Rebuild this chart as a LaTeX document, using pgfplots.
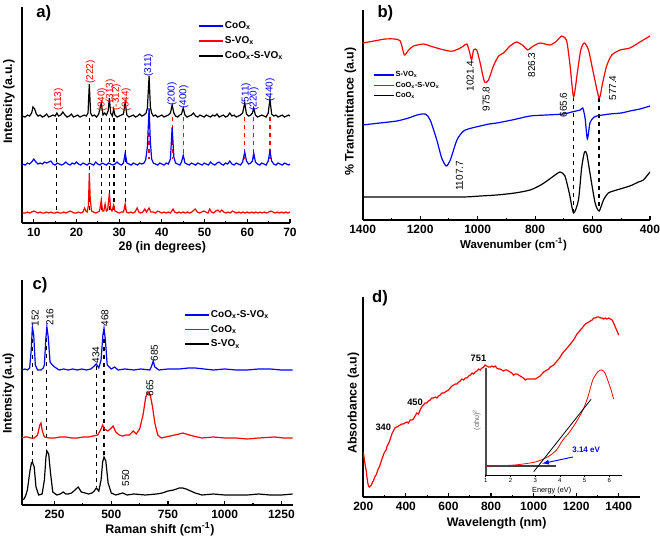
\documentclass[border=0pt]{standalone}
\usepackage{fontspec}
\setmainfont{Liberation Sans}
\usepackage{pgfplots}
\pgfplotsset{compat=1.18}
\definecolor{pblue}{RGB}{0,0,255}
\definecolor{pred}{RGB}{255,0,0}
\pgfplotsset{
  panel/.style={
    scale only axis,
    clip mode=individual,
    axis lines=left,
    axis line style={-, line width=1.3pt},
    ytick=\empty,
    tick align=inside,
    major tick length=3pt,
    minor tick length=1.8pt,
    every tick/.style={line width=0.8pt, black},
    minor x tick num=1,
    /pgf/number format/assume math mode=true,
    /pgf/number format/1000 sep={},
    ticklabel style={font=\bfseries\fontsize{9}{10}\selectfont},
    label style={font=\bfseries\fontsize{9.3}{11}\selectfont},
    legend cell align=left,
  },
  crv/.style={line width=0.9pt},
}
\tikzset{
  pk/.style={font=\fontsize{7.5}{8}\selectfont, rotate=90, inner sep=0pt},
  plab/.style={font=\bfseries\fontsize{12.5}{14}\selectfont},
}
\begin{document}
\begin{tikzpicture}
\useasboundingbox (0,0) rectangle (495pt,406.5pt);
% ---------------- a) ----------------
\begin{axis}[panel, at={(16.7pt,239.0pt)}, anchor=south west,
  width=200.8pt, height=162.2pt, xmin=7.3, xmax=70, ymin=-6.3, ymax=210,
  xtick={10,20,...,70},
  xlabel={2θ (in degrees)}, ylabel={Intensity (a.u.)},
  xlabel style={at={(axis description cs:0.523,-0.112)}, anchor=center},
  ylabel style={at={(axis description cs:-0.05,0.562)}, anchor=center},
  legend style={draw=none, fill=none, at={(axis description cs:0.655,0.94)}, anchor=north west,
    font=\bfseries\fontsize{7.5}{9}\selectfont, row sep=2.4pt, inner sep=0pt, nodes={inner sep=1pt}},
  legend image code/.code={\draw[#1,line width=1.3pt] (0pt,0pt) -- (18pt,0pt);},
]
\addplot[black, dashed, line width=0.9pt, forget plot] coordinates {(15.4,99) (15.4,5)};
\addplot[black, dashed, line width=0.9pt, forget plot] coordinates {(23.0,99) (23.0,5)};
\addplot[black, dashed, line width=0.9pt, forget plot] coordinates {(25.8,99) (25.8,5)};
\addplot[black, dashed, line width=0.9pt, forget plot] coordinates {(27.7,99) (27.7,5)};
\addplot[black, dashed, line width=0.9pt, forget plot] coordinates {(28.8,99) (28.8,5)};
\addplot[black, dashed, line width=0.9pt, forget plot] coordinates {(31.4,99) (31.4,5)};
\addplot[pred, dashed, line width=0.9pt, forget plot] coordinates {(37.0,100) (37.0,58)};
\addplot[pred, dashed, line width=0.9pt, forget plot] coordinates {(42.4,100) (42.4,58)};
\addplot[pred, dashed, line width=0.9pt, forget plot] coordinates {(45.0,100) (45.0,58)};
\addplot[pred, dashed, line width=0.9pt, forget plot] coordinates {(59.4,100) (59.4,58)};
\addplot[pred, dashed, line width=0.9pt, forget plot] coordinates {(61.5,100) (61.5,58)};
\addplot[pred, dashed, line width=0.9pt, forget plot] coordinates {(65.3,100) (65.3,58)};
% CoOx (blue)
\addplot[pblue, crv] coordinates {
(7.3,53) (8,52) (8.5,54) (9,53) (9.5,55) (10,58) (10.5,55) (11,53) (11.5,54) (12,53) (12.5,55) (13,54) (13.5,55) (14,56) (14.5,53) (15,52) (15.5,54) (16,53) (16.5,52) (17,53) (17.5,55) (18,53) (18.5,52) (19,54) (19.5,53) (20,55) (20.5,53) (21,52) (21.5,54) (22,53) (22.5,52) (23,54) (23.5,53) (24,52) (24.5,55) (25,53) (25.5,52) (26,54) (26.5,53) (27,52) (27.5,54) (28,53) (28.5,52) (29,53) (29.5,55) (30,53) (30.5,52) (31,54) (31.4,64) (31.8,54) (32.3,53) (32.8,52) (33.3,54) (33.8,53) (34.3,52) (34.8,54) (35.3,53) (35.8,54) (36.2,57) (36.6,70) (37.0,109) (37.3,75) (37.6,58) (38.0,54) (38.5,53) (39,52) (39.5,54) (40,53) (40.5,52) (41,54) (41.5,53) (42.0,58) (42.4,90) (42.8,60) (43.2,54) (43.7,53) (44.2,52) (44.6,55) (45.0,62) (45.4,54) (45.9,53) (46.4,52) (46.9,54) (47.4,53) (47.9,52) (48.4,54) (48.9,53) (49.4,52) (49.9,54) (50.4,53) (50.9,52) (51.4,55) (51.9,53) (52.4,52) (52.9,54) (53.4,55) (53.9,53) (54.4,52) (54.9,54) (55.4,53) (55.9,56) (56.4,53) (56.9,52) (57.4,54) (57.9,53) (58.4,52) (58.9,55) (59.4,65) (59.8,56) (60.3,53) (60.8,54) (61.2,56) (61.5,64) (61.9,55) (62.4,53) (62.9,52) (63.4,54) (63.9,53) (64.4,52) (64.9,56) (65.3,66) (65.7,56) (66.2,53) (66.7,52) (67.2,54) (67.7,53) (68.2,52) (68.7,54) (69.2,53) (69.7,52) (70,53)};
\addlegendentry{CoO\textsubscript{x}}
% S-VOx (red)
\addplot[pred, crv] coordinates {
(7.3,4) (8,4) (8.5,5) (9,4) (9.5,5) (10,6) (10.5,5) (11,4) (11.5,5) (12,4) (12.5,4) (13,5) (13.5,4) (14,5) (14.5,4) (15,4) (15.5,5) (16,4) (16.5,4) (17,5) (17.5,4) (18,5) (18.5,6) (19,5) (19.5,4) (20,4) (20.5,5) (21,4) (21.5,5) (21.9,9) (22.2,6) (22.5,5) (22.8,12) (23.0,44) (23.2,20) (23.5,6) (24,5) (24.5,4) (25,5) (25.4,6) (25.8,17) (26.1,6) (26.4,6) (26.7,13) (27.0,6) (27.3,7) (27.7,24) (28.0,8) (28.3,6) (28.7,12) (29.0,6) (29.5,5) (30,4) (30.5,5) (31,5) (31.4,13) (31.7,5) (32.2,4) (32.7,5) (33.2,4) (33.7,5) (34.2,9) (34.6,5) (35,4) (35.5,5) (36,8) (36.4,5) (37,9) (37.4,5) (38,5) (38.5,4) (39,6) (39.5,5) (40,4) (40.5,5) (41,4) (41.5,5) (42,4) (42.6,8) (43,5) (43.5,4) (44,5) (44.5,4) (45,5) (45.5,4) (46,5) (46.5,4) (47,5) (47.8,8) (48.3,5) (48.8,4) (49.3,5) (49.8,6) (50.3,5) (50.8,4) (51.2,8) (51.6,5) (52.1,4) (52.6,6) (53.1,7) (53.6,5) (54,7) (54.5,5) (55,4) (55.5,5) (56,4) (56.5,6) (57,5) (57.5,4) (58,5) (58.5,4) (59,5) (59.5,4) (60,5) (60.5,4) (61,5) (61.5,4) (62,5) (62.5,4) (63,5) (63.5,4) (64,5) (64.5,4) (65,5) (65.5,6) (66,5) (66.5,4) (67,5) (67.5,4) (68,5) (68.5,4) (69,5) (69.5,4) (70,5)};
\addlegendentry{S-VO\textsubscript{x}}
% CoOx-S-VOx (black)
\addplot[black, crv] coordinates {
(7.3,101) (8,100) (8.5,102) (9,101) (9.5,104) (9.8,110) (10.2,108) (10.6,103) (11,101) (11.5,102) (12,100) (12.5,101) (13,103) (13.5,100) (14,101) (14.5,102) (15,101) (15.4,104) (15.8,101) (16.3,102) (16.8,105) (17.3,102) (17.8,100) (18.3,101) (18.8,103) (19.3,100) (19.8,101) (20.3,102) (20.8,100) (21.3,101) (21.8,102) (22.3,101) (22.7,104) (23.0,133) (23.3,104) (23.7,101) (24.2,102) (24.7,100) (25.2,103) (25.8,114) (26.2,102) (26.6,104) (27.0,102) (27.4,106) (27.7,119) (28.0,104) (28.4,101) (28.7,108) (29.0,102) (29.5,100) (30.0,101) (30.5,102) (31.0,103) (31.4,115) (31.8,102) (32.3,100) (32.8,101) (33.3,102) (33.8,100) (34.3,101) (34.8,103) (35.3,101) (35.8,102) (36.3,104) (36.6,109) (37.0,141) (37.3,110) (37.6,104) (38.0,101) (38.5,102) (39,100) (39.5,101) (40,102) (40.5,100) (41,101) (41.5,102) (42.0,104) (42.4,112) (42.8,104) (43.2,101) (43.7,100) (44.2,102) (44.6,103) (45.0,109) (45.4,102) (45.9,100) (46.4,101) (46.9,102) (47.4,104) (47.9,101) (48.4,100) (48.9,102) (49.4,101) (49.9,100) (50.4,102) (50.9,101) (51.4,100) (51.9,102) (52.4,101) (52.9,103) (53.4,100) (53.9,101) (54.4,102) (54.9,100) (55.4,101) (55.9,104) (56.4,101) (56.9,102) (57.4,100) (57.9,101) (58.4,102) (58.9,104) (59.4,114) (59.8,103) (60.3,101) (60.8,102) (61.2,104) (61.5,109) (61.9,102) (62.4,100) (62.9,101) (63.4,102) (63.9,101) (64.4,100) (64.9,104) (65.3,118) (65.7,103) (66.2,101) (66.7,102) (67.2,100) (67.7,101) (68.2,102) (68.7,100) (69.2,101) (69.7,102) (70,101)};
\addlegendentry{CoO\textsubscript{x}-S-VO\textsubscript{x}}
\node[pk, pred] at (axis cs:15.8,117.5) {(113)};
\node[pk, pred] at (axis cs:23.3,145) {(222)};
\node[pk, pred] at (axis cs:26.0,117.5) {(040)};
\node[pk, pred] at (axis cs:27.9,126) {(313)};
\node[pk, pred] at (axis cs:29.3,120) {(-312)};
\node[pk, pred] at (axis cs:31.6,117.5) {(044)};
\node[pk, pblue] at (axis cs:36.9,152) {(311)};
\node[pk, pblue] at (axis cs:42.4,123) {(200)};
\node[pk, pblue] at (axis cs:45.1,120) {(400)};
\node[pk, pblue] at (axis cs:59.7,123) {(511)};
\node[pk, pblue] at (axis cs:61.6,118) {(220)};
\node[pk, pblue] at (axis cs:65.3,127) {(440)};
\node[plab] at (axis description cs:0.08,0.972) {a)};
\end{axis}
% ---------------- b) ----------------
\begin{axis}[panel, at={(272.0pt,241.5pt)}, anchor=south west,
  width=215.5pt, height=157.5pt, xmin=400, xmax=1400, x dir=reverse, ymin=-2, ymax=208,
  xtick={400,600,...,1400},
  xlabel={Wavenumber (cm\textsuperscript{-1})}, ylabel={\% Transmittance (a.u)},
  xlabel style={font=\bfseries\fontsize{8.6}{10}\selectfont, at={(axis description cs:0.525,-0.117)}, anchor=center},
  ylabel style={at={(axis description cs:-0.043,0.516)}, anchor=center},
  legend style={draw=none, fill=none, at={(axis description cs:0.036,0.714)}, anchor=north west,
    font=\bfseries\fontsize{5.6}{6.5}\selectfont, row sep=0.8pt, inner sep=0pt, nodes={inner sep=0.8pt}},
  legend image code/.code={\draw[#1,line width=1pt] (0pt,0pt) -- (15pt,0pt);},
]
\addplot[black, dashed, line width=0.9pt, forget plot] coordinates {(665.6,121) (665.6,5)};
\addplot[black, dashed, line width=0.9pt, forget plot] coordinates {(577.4,120) (577.4,7)};
\addplot[pblue, crv, smooth, tension=0.4] coordinates {
(1400,93) (1340,95) (1281,97) (1240,100) (1211,103) (1182,104) (1165,98) (1142,78) (1125,60) (1109,52) (1095,58) (1072,78) (1049,87) (1020,90) (991,92) (960,94) (933,95) (880,98) (817,102) (760,103) (701,104) (672,106) (643,108) (634,110) (626,100) (618,79) (609,95) (598,100) (585,102) (540,104) (500,105) (470,107) (435,109) (400,112)};
\addlegendentry{S-VO\textsubscript{x}}
\addplot[pred, crv, smooth, tension=0.4] coordinates {
(1400,175) (1360,177) (1321,179) (1290,179) (1269,177) (1255,163) (1240,168) (1223,172) (1188,174) (1165,172) (1130,169) (1100,167) (1084,167) (1060,170) (1049,172) (1037,174) (1028,166) (1021,158) (1014,168) (1003,168) (991,155) (976,136) (962,138) (945,152) (927,162) (910,165) (887,172) (864,176) (840,172) (826,168) (806,172) (782,175) (748,173) (725,177) (707,182) (690,177) (678,152) (666,121) (653,145) (641,168) (629,175) (614,168) (597,145) (577,120) (565,135) (551,152) (533,163) (504,168) (470,170) (435,176) (400,182)};
\addlegendentry{CoO\textsubscript{x}-S-VO\textsubscript{x}}
\addplot[black, crv, smooth, tension=0.4] coordinates {
(1400,21) (1200,21) (1049,21) (990,22) (933,23) (870,25) (817,28) (780,33) (759,37) (735,42) (713,46) (696,42) (681,25) (666,5) (649,18) (638,50) (628,66) (620,64) (609,45) (591,15) (577,7) (562,18) (545,25) (516,28) (470,32) (440,36) (423,38) (400,46)};
\addlegendentry{CoO\textsubscript{x}}
\node[pk] at (axis cs:1026,142) {1021.4};
\node[pk] at (axis cs:970,119) {975.8};
\node[pk] at (axis cs:812,153) {826.3};
\node[pk] at (axis cs:701,113) {665.6};
\node[pk] at (axis cs:530,130) {577.4};
\node[pk] at (axis cs:1063,42) {1107.7};
\node[plab] at (axis description cs:0.079,0.984) {b)};
\end{axis}
% ---------------- c) ----------------
\begin{axis}[panel, at={(16.275pt,27.75pt)}, anchor=south west,
  width=203.25pt, height=168.75pt, xmin=105, xmax=1300, ymin=0, ymax=225,
  xtick={250,500,...,1250},
  xlabel={Raman shift (cm\textsuperscript{-1})}, ylabel={Intensity (a.u)},
  xlabel style={at={(axis description cs:0.51,-0.109)}, anchor=center},
  ylabel style={at={(axis description cs:-0.049,0.496)}, anchor=center},
  legend style={draw=none, fill=none, at={(axis description cs:0.6,0.873)}, anchor=north west,
    font=\bfseries\fontsize{7.5}{9}\selectfont, row sep=2.4pt, inner sep=0pt, nodes={inner sep=1pt}},
  legend image code/.code={\draw[#1,line width=1.3pt] (0pt,0pt) -- (17.5pt,0pt);},
]
\addplot[black, dashed, line width=0.9pt, forget plot] coordinates {(152,174) (152,43)};
\addplot[black, dashed, line width=0.9pt, forget plot] coordinates {(216,175) (216,54)};
\addplot[black, dashed, line width=0.9pt, forget plot] coordinates {(434,139) (434,18)};
\addplot[black, dashed, line width=0.9pt, forget plot] coordinates {(468,174) (468,48)};
\addplot[pblue, crv] coordinates {
(105,135) (120,136) (130,135) (140,137) (147,155) (152,178) (158,170) (165,140) (175,135) (190,135) (200,137) (205,140) (211,165) (216,178) (222,168) (230,143) (240,140) (250,138) (270,135) (290,136) (310,135) (330,136) (350,135) (370,136) (390,135) (410,136) (425,139) (434,141) (445,137) (455,145) (463,170) (468,177) (474,165) (482,140) (500,136) (515,138) (530,135) (560,136) (600,135) (630,136) (670,135) (678,139) (685,144) (692,138) (710,135) (750,136) (800,136) (840,137) (870,137) (910,136) (950,135) (1000,136) (1050,135) (1100,135) (1150,136) (1200,136) (1250,135) (1300,135)};
\addlegendentry{CoO\textsubscript{x}-S-VO\textsubscript{x}}
\addplot[pred, crv] coordinates {
(105,67) (118,68) (130,68) (145,67) (160,67) (175,70) (185,80) (190,82) (196,74) (205,68) (225,67) (250,67) (275,68) (300,68) (325,67) (350,67) (375,68) (400,68) (420,69) (440,70) (455,76) (462,80) (470,76) (485,74) (500,77) (508,79) (520,73) (535,70) (550,69) (565,70) (580,70) (597,74) (610,71) (625,76) (640,90) (652,108) (663,113) (672,110) (682,98) (692,82) (705,70) (720,67) (740,68) (760,69) (780,70) (800,71) (815,72) (830,71) (860,69) (900,67) (950,68) (1000,67) (1050,67) (1100,66) (1150,67) (1220,68) (1260,67) (1300,67)};
\addlegendentry{CoO\textsubscript{x}}
\addplot[black, crv] coordinates {
(105,5) (115,6) (122,9) (130,15) (136,25) (142,35) (148,42) (152,43) (160,38) (168,18) (180,10) (195,11) (205,25) (212,48) (216,54) (224,51) (232,32) (242,13) (260,10) (275,11) (288,13) (300,11) (310,11) (325,12) (340,15) (354,18) (368,13) (385,12) (400,11) (415,12) (425,14) (434,17) (445,14) (455,25) (462,43) (468,48) (476,44) (486,22) (500,12) (520,10) (535,11) (550,12) (570,10) (600,11) (650,10) (700,11) (725,12) (750,14) (775,15) (800,17) (815,17) (830,16) (850,14) (870,12) (900,10) (950,11) (1000,10) (1050,10) (1100,10) (1150,11) (1200,10) (1250,10) (1300,11)};
\addlegendentry{S-VO\textsubscript{x}}
\node[pk] at (axis cs:164,187) {152};
\node[pk] at (axis cs:230,188) {216};
\node[pk] at (axis cs:432,150) {434};
\node[pk] at (axis cs:472,187) {468};
\node[pk] at (axis cs:690,152) {685};
\node[pk] at (axis cs:670,117) {665};
\node[pk] at (axis cs:564,27) {550};
\node[plab] at (axis description cs:0.068,0.978) {c)};
\end{axis}
% ---------------- d) ----------------
\begin{axis}[panel, at={(272.5pt,33.75pt)}, anchor=south west,
  width=207.5pt, height=150.2pt, xmin=200, xmax=1500, ymin=3, ymax=203.3,
  xtick={200,400,...,1400},
  xlabel={Wavelength (nm)}, ylabel={Absorbance (a.u)},
  xlabel style={at={(axis description cs:0.482,-0.13)}, anchor=center},
  ylabel style={at={(axis description cs:-0.036,0.468)}, anchor=center},
]
\addplot[pred, crv] coordinates {
(200,48) (205,40) (210,33) (213,30) (217,23) (220,18) (224,14) (228,13) (233,14) (238,15) (243,18) (247,19) (252,22) (256,24) (260,25) (265,28) (270,31) (275,33) (280,36) (286,40) (291,43) (296,46) (300,48) (307,50) (312,54) (317,56) (322,58) (328,62) (334,66) (341,69) (348,72) (357,73) (365,74) (373,75) (380,76) (388,76) (396,77) (405,78) (412,77) (420,80) (427,80) (435,81) (443,84) (451,87) (459,86) (467,90) (474,93) (482,95) (490,97) (498,97) (506,99) (514,100) (522,102) (530,102) (538,103) (546,102) (553,104) (561,105) (569,107) (577,107) (585,108) (592,109) (600,110) (608,112) (616,114) (624,115) (632,116) (640,116) (648,118) (655,119) (663,121) (671,120) (679,122) (687,122) (695,124) (703,125) (711,127) (718,126) (726,128) (734,129) (742,131) (749,130) (757,132) (765,133) (772,135) (780,134) (788,133) (796,133) (804,134) (812,133) (820,134) (827,132) (835,131) (843,131) (851,130) (859,129) (866,130) (874,130) (882,129) (890,128) (898,127) (906,125) (914,126) (922,126) (930,125) (937,124) (945,123) (953,122) (961,120) (969,121) (977,121) (985,121) (992,121) (1000,121) (1008,121) (1016,122) (1023,123) (1031,124) (1039,126) (1047,128) (1055,129) (1063,130) (1071,131) (1078,133) (1086,134) (1094,135) (1102,137) (1110,139) (1118,141) (1125,143) (1133,146) (1141,148) (1149,150) (1157,152) (1165,154) (1173,156) (1180,158) (1188,160) (1196,163) (1204,166) (1212,168) (1220,170) (1228,172) (1235,174) (1243,176) (1251,177) (1259,178) (1267,179) (1275,180) (1282,182) (1290,182) (1298,183) (1306,183) (1314,182) (1322,182) (1329,181) (1337,182) (1345,181) (1353,182) (1361,181) (1369,180) (1376,177) (1384,173) (1392,169) (1400,165)};
\node[font=\bfseries\fontsize{7}{8}\selectfont] at (axis cs:294,73) {340};
\node[font=\bfseries\fontsize{7}{8}\selectfont] at (axis cs:443,98) {450};
\node[font=\bfseries\fontsize{7}{8}\selectfont] at (axis cs:741,142) {751};
\node[plab] at (axis description cs:0.06,0.992) {d)};
\end{axis}
% inset
\begin{axis}[scale only axis, at={(364.3pt,50.25pt)}, anchor=south west,
  width=102pt, height=80.25pt, xmin=1, xmax=6.5, ymin=0, ymax=107,
  clip mode=individual,
  axis lines=left,
  x axis line style={-, black, line width=0.6pt},
  y axis line style={-, black!70, line width=1.2pt},
  ytick=\empty, xtick={1,2,...,6},
  tick align=outside, major tick length=1.5pt,
  every tick/.style={black, line width=0.4pt},
  /pgf/number format/assume math mode=true,
  ticklabel style={font=\fontsize{4.5}{5}\selectfont, inner sep=1pt},
  xlabel={Energy (eV)}, ylabel={(αhυ)\textsuperscript{2}},
  xlabel style={font=\fontsize{5.5}{6}\selectfont, at={(axis description cs:0.485,-0.15)}, anchor=center},
  ylabel style={font=\fontsize{5.5}{6}\selectfont, text=black!60, at={(axis description cs:-0.066,0.514)}, anchor=center},
]
\addplot[black!75, line width=1.4pt] coordinates {(1,9) (3.83,9)};
\addplot[pred, line width=0.6pt, smooth, tension=0.5] coordinates {
(1,9) (2,9.7) (2.51,11) (3.05,13.3) (3.52,18.3) (3.86,25) (4.12,35) (4.39,43) (4.66,53) (4.93,65) (5.13,78) (5.33,95) (5.53,103) (5.66,105) (5.80,103) (5.93,95) (6.07,85) (6.17,76)};
\addplot[black, line width=0.6pt] coordinates {(2.94,3.3) (5.26,75.7)};
\draw[-latex, pblue, line width=0.7pt] (axis cs:4.53,18) -- (axis cs:3.29,11.5);
\node[font=\bfseries\fontsize{6}{7}\selectfont, text=pblue] at (axis cs:5.06,25) {3.14 eV};
\end{axis}
\end{tikzpicture}
\end{document}
